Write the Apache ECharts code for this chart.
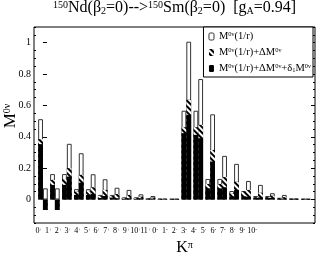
<!DOCTYPE html>
<html><head><meta charset="utf-8">
<script src="https://cdn.jsdelivr.net/npm/echarts@6/dist/echarts.min.js"></script>
<style>html,body{margin:0;padding:0;background:#fff}#c{width:316px;height:253px}</style>
</head><body><div id="c"></div>
<script>
// K^pi categories (label order along the axis)
const kLabels = ['0+','1+','2+','3+','4+','5+','6+','7+','8+','9+','10+','11+',
                 '0-','1-','2-','3-','4-','5-','6-','7-','8-','9-','10-'];
// left bar of each pair
const m1rLeft   = [0.512,0.162,0.162,0.066,0.066,0.029,0.029,0.014,0.014,0.008,0.005,0.004,
                   0.566,0.566,0.131,0.131,0.054,0.054,0.022,0.022,0.011,0.006,0.004];
const dmLeft    = [0.385,0.125,0.130,0.050,0.055,0.022,0.022,0.010,0.010,0.005,0.003,0.002,
                   0.461,0.461,0.099,0.099,0.040,0.050,0.015,0.015,0.007,0.004,0.003];
const d1Left    = [0.353,0.093,0.093,0.029,0.029,0.010,0.012,0.005,0.005,0.003,0.002,0.002,
                   0.423,0.412,0.071,0.071,0.020,0.020,0.010,0.010,0.004,0.003,0.002];
// right bar of each pair
const m1rRight  = [0.071,0.071,0.355,0.295,0.161,0.129,0.075,0.061,0.033,0.022,0.005,0.004,
                   1.006,0.768,0.543,0.278,0.227,0.118,0.093,0.040,0.029,0.006,0.004];
const dmRight   = [-0.065,-0.065,0.200,0.157,0.078,0.061,0.035,0.029,0.018,0.012,0.003,0.002,
                   0.636,0.476,0.316,0.143,0.114,0.061,0.043,0.025,0.015,0.004,0.003];
const d1Right   = [-0.067,-0.067,0.146,0.107,0.035,0.022,0.008,0.008,0.008,0.006,0.002,0.002,
                   0.540,0.391,0.242,0.078,0.061,0.018,0.013,0.010,0.006,0.003,0.002];
// y-axis ticks
const yMajor = [0, 0.2, 0.4, 0.6, 0.8, 1];
const yMinor = [-0.15,-0.1,-0.05,0.05,0.1,0.15,0.25,0.3,0.35,0.45,0.5,0.55,0.65,0.7,0.75,0.85,0.9,0.95,1.05,1.1];
const seriesNames = ['M0ν(1/r)', 'M0ν(1/r)+ΔM0ν', 'M0ν(1/r)+ΔM0ν+δ1M0ν'];
const legendRich = {
  'M0ν(1/r)': 'M{s|0ν}(1/r)',
  'M0ν(1/r)+ΔM0ν': 'M{s|0ν}(1/r)+ΔM{s|0ν}',
  'M0ν(1/r)+ΔM0ν+δ1M0ν': 'M{s|0ν}(1/r)+ΔM{s|0ν}+δ{u|1}M{s|0ν}'
};

const FONT = 'Liberation Serif';
const labelAxisData = kLabels.concat(['','','','','','']);

const hatch = {symbol:'rect', symbolSize:1, color:'#fff', dashArrayX:[1,0], dashArrayY:[2,2], rotation:Math.PI/4};
const styles = [
  {color:'#fff', borderColor:'#333', borderWidth:1},
  {color:'#000', decal:hatch},
  {color:'#000'}
];
const leftSets = [m1rLeft, dmLeft, d1Left];
const rightSets = [m1rRight, dmRight, d1Right];
const series = [];
for (let s = 0; s < 3; s++) {
  [[leftSets[s], -0.2], [rightSets[s], 0.2]].forEach(([arr, off]) => {
    series.push({
      type:'bar', name: seriesNames[s], xAxisIndex:0, yAxisIndex:0,
      barWidth:4.8, barGap:'-100%', silent:true,
      itemStyle: styles[s],
      data: arr.map((v, i) => [i + off, v])
    });
  });
}

const chart = echarts.init(document.getElementById('c'), null, {renderer:'canvas'});
chart.setOption({
  animation:false,
  backgroundColor:'#fff',
  title:{
    text:'{s|150}Nd(β{b|2}=0)-->{s|150}Sm(β{b|2}=0)  [g{b|A}=0.94]',
    left:53, top:0, padding:0,
    textStyle:{fontFamily:FONT, fontSize:16, fontWeight:'normal', color:'#000',
      rich:{s:{fontFamily:FONT, fontSize:10, color:'#000', verticalAlign:'top'},
            b:{fontFamily:FONT, fontSize:10, color:'#000', verticalAlign:'bottom'}}}
  },
  graphic:[{
    type:'text', x:19, y:116, rotation:Math.PI/2, silent:true,
    style:{text:'{m|M}{s|0ν}', align:'center', verticalAlign:'bottom',
      rich:{m:{fontFamily:FONT, fontSize:17, fill:'#000', color:'#000'},
            s:{fontFamily:FONT, fontSize:10, fill:'#000', color:'#000', verticalAlign:'top'}}}
  }],
  legend:{
    data: [
      {name:seriesNames[0], itemStyle:{color:'#fff', borderColor:'#333', borderWidth:1}},
      {name:seriesNames[1], itemStyle:{color:'#000', decal:hatch}},
      {name:seriesNames[2], itemStyle:{color:'#000'}}
    ],
    orient:'vertical', right:3, top:27,
    itemWidth:5, itemHeight:7, itemGap:5,
    padding:[4,2,3,5],
    borderColor:'#000', borderWidth:1, backgroundColor:'#fff',
    formatter: n => legendRich[n],
    textStyle:{fontFamily:FONT, fontSize:10.5, color:'#000',
      rich:{s:{fontFamily:FONT, fontSize:6.5, color:'#000', verticalAlign:'top'},
            u:{fontFamily:FONT, fontSize:6.5, color:'#000', verticalAlign:'bottom'}}}
  },
  grid:{left:34, right:1, top:27, bottom:30, show:true, borderColor:'#000', borderWidth:1,
        outerBoundsMode:'none', containLabel:false},
  xAxis:[
    {type:'value', min:-0.75, max:22.77, show:false},
    {type:'category', data:labelAxisData, position:'bottom', boundaryGap:true,
     axisLine:{show:false}, axisTick:{show:false}, splitLine:{show:false},
     axisLabel:{interval:0, margin:4, color:'#000', fontFamily:FONT, fontSize:8,
       formatter: v => v ? '{n|' + v.slice(0, -1) + '}{p|' + v.slice(-1) + '}' : '',
       rich:{n:{fontFamily:FONT, fontSize:8, color:'#000'},
             p:{fontFamily:FONT, fontSize:5, color:'#000', verticalAlign:'top'}}},
     name:'{k|K}{p|π}', nameLocation:'middle', nameGap:13,
     nameTextStyle:{padding:[0,0,0,20], rich:{k:{fontFamily:FONT, fontSize:16, color:'#000'},
                                            p:{fontFamily:FONT, fontSize:10, color:'#000', verticalAlign:'top'}}}}
  ],
  yAxis:[
    {type:'value', min:-0.15, max:1.1, position:'left',
     axisLine:{show:false}, splitLine:{show:false},
     axisTick:{show:true, inside:true, length:4, customValues:yMajor, lineStyle:{color:'#000'}},
     axisLabel:{customValues:yMajor, margin:3, color:'#000', fontFamily:FONT, fontSize:10,
       formatter: v => String(+(+v).toFixed(2))}},
    {type:'value', min:-0.15, max:1.1, position:'left',
     axisLine:{show:false}, splitLine:{show:false}, axisLabel:{show:false},
     axisTick:{show:true, inside:true, length:2, customValues:yMinor, lineStyle:{color:'#000'}}},
    {type:'value', min:-0.15, max:1.1, position:'right',
     axisLine:{show:false}, splitLine:{show:false}, axisLabel:{show:false},
     axisTick:{show:true, inside:true, length:4, customValues:yMajor, lineStyle:{color:'#000'}}},
    {type:'value', min:-0.15, max:1.1, position:'right',
     axisLine:{show:false}, splitLine:{show:false}, axisLabel:{show:false},
     axisTick:{show:true, inside:true, length:2, customValues:yMinor, lineStyle:{color:'#000'}}}
  ],
  series: series
});
</script></body></html>
